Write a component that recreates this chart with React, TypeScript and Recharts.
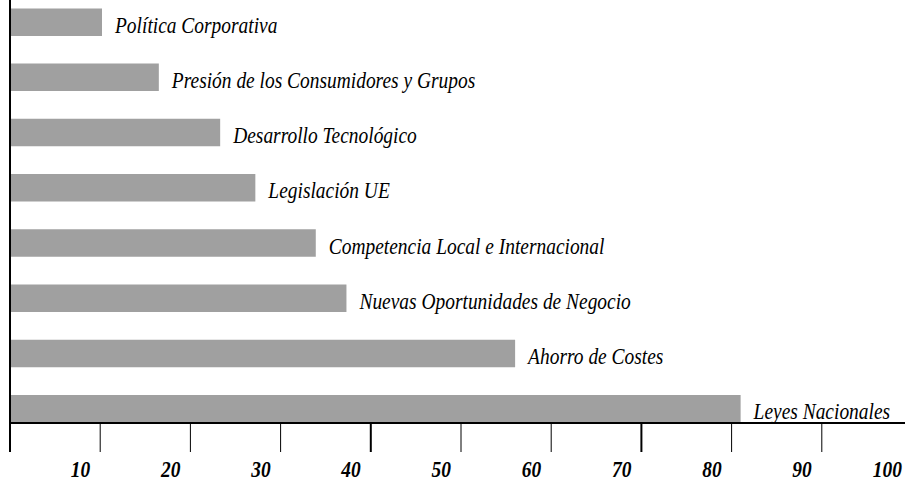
import React from 'react';
import { BarChart, Bar, XAxis, YAxis, LabelList } from 'recharts';

const categories = [
  'Política Corporativa',
  'Presión de los Consumidores y Grupos',
  'Desarrollo Tecnológico',
  'Legislación UE',
  'Competencia Local e Internacional',
  'Nuevas Oportunidades de Negocio',
  'Ahorro de Costes',
  'Leyes Nacionales',
];
const values = [10.2, 16.5, 23.3, 27.2, 33.9, 37.3, 56.0, 81.0];
const xTicks = [0, 10, 20, 30, 40, 50, 60, 70, 80, 90, 100];

const data = categories.map((name, i) => ({ name, value: values[i] }));

const FONT = "'Liberation Serif', 'Times New Roman', serif";
const SX_TICK = 0.81;
const SX_LABEL = 0.845;

const XTick = (props: any) => {
  const { x, y, payload } = props;
  const v = payload.value;
  const w = v === 0 || v === 40 || v === 70 ? 2 : 1;
  return (
    <g>
      <line x1={x} x2={x} y1={y - 29} y2={y} stroke="#000" strokeWidth={w} />
      {v !== 0 && (
        <text
          transform={`translate(${x - 10},${y + 24.5}) scale(${SX_TICK},1)`}
          textAnchor="end"
          style={{ fontFamily: FONT, fontStyle: 'italic', fontWeight: 'bold', fontSize: 24 }}
          fill="#000"
        >
          {v}
        </text>
      )}
    </g>
  );
};

const BarLabel = (props: any) => {
  const { x, y, width, height, value } = props;
  const tx = Number(x) + Number(width) + 13;
  const ty = Number(y) + Number(height) / 2 + 10.5;
  return (
    <text
      transform={`translate(${tx},${ty}) scale(${SX_LABEL},1)`}
      textAnchor="start"
      style={{ fontFamily: FONT, fontStyle: 'italic', fontSize: 23 }}
      fill="#000"
    >
      {value}
    </text>
  );
};

export default function App() {
  return (
    <div style={{ position: 'absolute', left: 0, top: 0, background: '#fff' }}>
      <BarChart
        width={905}
        height={481}
        data={data}
        layout="vertical"
        margin={{ top: 0, right: -7, left: 0, bottom: 0 }}
      >
        <XAxis
          type="number"
          domain={[0, 100]}
          ticks={xTicks}
          interval={0}
          height={58}
          tickSize={29}
          tickMargin={0}
          tickLine={false}
          tick={<XTick />}
          axisLine={{ stroke: '#000', strokeWidth: 2 }}
          allowDataOverflow
        />
        <YAxis
          type="category"
          dataKey="name"
          width={10}
          tick={false}
          tickLine={false}
          axisLine={{ stroke: '#000', strokeWidth: 2 }}
          padding={{ top: -5.6, bottom: -13.1 }}
        />
        <Bar dataKey="value" fill="#a0a0a0" barSize={27.5} isAnimationActive={false}>
          <LabelList dataKey="name" content={<BarLabel />} />
        </Bar>
      </BarChart>
    </div>
  );
}
